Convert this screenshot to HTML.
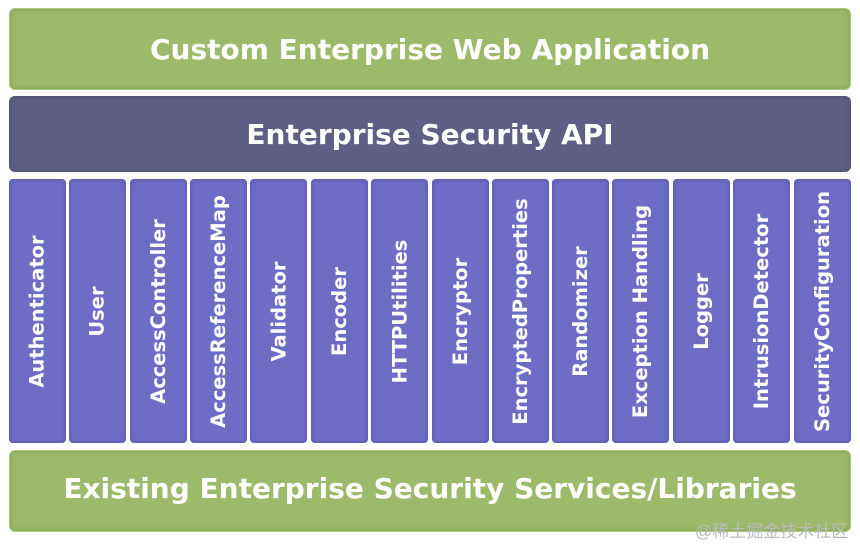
<!DOCTYPE html>
<html><head><meta charset="utf-8"><style>
body{margin:0;width:860px;height:546px;background:#fff;position:relative;overflow:hidden;font-family:"DejaVu Sans","Liberation Sans",sans-serif;font-weight:bold;color:#fff}
.b{position:absolute;border-radius:6px;display:flex;align-items:center;justify-content:center;box-sizing:border-box}
.g{background:#9bbb6a;border:1px solid #a9c87c;box-shadow:inset 0 0 6px rgba(80,110,40,.35)}
.p{background:#5f5e84;box-shadow:inset 0 0 6px rgba(30,30,60,.35)}
.c{background:#6e6dc6;width:57px;top:179px;height:264px;border-radius:4px;box-shadow:inset 0 0 5px rgba(40,40,100,.4)}
.c span{transform:rotate(-90deg);white-space:nowrap;font-size:19.5px}
.t{font-size:28px}
</style></head><body>
<div class="b g t" style="left:9px;top:8px;width:842px;height:82px">Custom Enterprise Web Application</div>
<div class="b p t" style="left:9px;top:96px;width:842px;height:76px">Enterprise Security API</div>
<div class="b c" style="left:9px"><span>Authenticator</span></div>
<div class="b c" style="left:69px"><span>User</span></div>
<div class="b c" style="left:130px"><span>AccessController</span></div>
<div class="b c" style="left:190px"><span>AccessReferenceMap</span></div>
<div class="b c" style="left:250px"><span>Validator</span></div>
<div class="b c" style="left:311px"><span>Encoder</span></div>
<div class="b c" style="left:371px"><span>HTTPUtilities</span></div>
<div class="b c" style="left:432px"><span>Encryptor</span></div>
<div class="b c" style="left:492px"><span>EncryptedProperties</span></div>
<div class="b c" style="left:552px"><span>Randomizer</span></div>
<div class="b c" style="left:612px"><span>Exception Handling</span></div>
<div class="b c" style="left:673px"><span>Logger</span></div>
<div class="b c" style="left:733px"><span>IntrusionDetector</span></div>
<div class="b c" style="left:794px"><span>SecurityConfiguration</span></div>
<div class="b g t" style="left:9px;top:450px;width:842px;height:82px;padding-bottom:6px">Existing Enterprise Security Services/Libraries</div>
<div style="position:absolute;left:695px;top:517px;font-size:17px;font-weight:normal;color:#bbb;font-family:'Liberation Sans','Noto Sans CJK SC',sans-serif">@稀土掘金技术社区</div>
</body></html>
